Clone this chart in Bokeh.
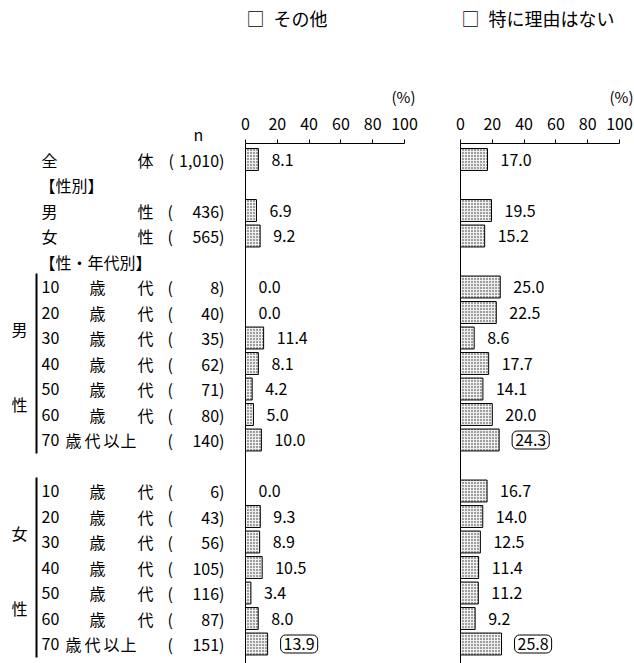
from bokeh.plotting import figure
from bokeh.layouts import column, row
from bokeh.models import ColumnDataSource, Range1d, LinearAxis, FixedTicker, Span
from bokeh.core.properties import value
from bokeh.embed import file_html
from bokeh.resources import INLINE

# ---------------- data ----------------
rows = ["全体", "【性別】", "男性", "女性", "【性・年代別】",
        "10歳代", "20歳代", "30歳代", "40歳代", "50歳代", "60歳代", "70歳代以上",
        "",
        "10歳代", "20歳代", "30歳代", "40歳代", "50歳代", "60歳代", "70歳代以上"]
n_counts = [1010, None, 436, 565, None, 8, 40, 35, 62, 71, 80, 140, None,
            6, 43, 56, 105, 116, 87, 151]
other = [8.1, None, 6.9, 9.2, None, 0.0, 0.0, 11.4, 8.1, 4.2, 5.0, 10.0, None,
         0.0, 9.3, 8.9, 10.5, 3.4, 8.0, 13.9]
no_reason = [17.0, None, 19.5, 15.2, None, 25.0, 22.5, 8.6, 17.7, 14.1, 20.0, 24.3, None,
             16.7, 14.0, 12.5, 11.4, 11.2, 9.2, 25.8]
boxed_other = [19]
boxed_no_reason = [11, 19]
titles = ["□\u2002その他", "□\u2002特に理由はない"]
ticks = [0, 20, 40, 60, 80, 100]
n_header = "n"
groups = [("男", "性", 5, 11), ("女", "性", 13, 19)]

# ---------------- layout constants ----------------
FONT = "Noto Sans CJK JP"
W, H = 634, 663
HEAD_H = 106
ROW0 = 159.0      # y of first row centre
STEP = 25.5
FRAME_TOP = 143
Y_BOT = (H - ROW0) / STEP
Y_TOP = (FRAME_TOP - ROW0) / STEP
LW = 240
P1_W = 215
P2_W = W - LW - P1_W
P1_ZERO, P2_ZERO = 5, 5       # px from figure's left edge
P1_S, P2_S = 1.59, 1.59       # px per percent

TXT = dict(text_font=value(FONT), text_color="black", text_baseline="middle")


def clean(fig):
    for g in fig.grid:
        g.visible = False
    fig.outline_line_color = None
    fig.background_fill_color = None
    fig.border_fill_color = "white"


def base(width, height, xr, yr, top):
    f = figure(width=width, height=height, x_range=xr, y_range=yr,
               output_backend="svg", toolbar_location=None,
               x_axis_location=None, y_axis_location=None,
               min_border=0, min_border_left=0, min_border_right=0,
               min_border_top=top, min_border_bottom=0)
    clean(f)
    return f


# ---------------- header ----------------
head = base(W, HEAD_H, Range1d(0, W), Range1d(HEAD_H, 0), 0)
title_x = [LW + P1_ZERO + 1, LW + P1_W + P2_ZERO + 1]
head.text(x=title_x, y=[17, 17], text=titles, text_font_size="18px", text_align="left", **TXT)
head.text(x=[LW + P1_ZERO + 100 * P1_S - 1], y=[96], text=["(%)"],
          text_font_size="15px", text_align="center", **TXT)
head.text(x=[W - 1], y=[96], text=["(%)"], text_font_size="15px", text_align="right", **TXT)

# ---------------- left labels ----------------
left = base(LW, H - HEAD_H, Range1d(0, LW), Range1d(Y_BOT, Y_TOP), FRAME_TOP - HEAD_H)
n_axis = LinearAxis(ticker=FixedTicker(ticks=[198]), major_label_overrides={198: n_header},
                    axis_line_color=None, major_tick_line_color=None,
                    major_tick_in=0, major_tick_out=0, minor_tick_in=0, minor_tick_out=0,
                    major_label_standoff=-2, major_label_text_font=FONT,
                    major_label_text_font_size="16px", major_label_text_color="black")
left.add_layout(n_axis, "above")

lx, ly, lt = [], [], []      # left aligned
cx, cy, ct = [], [], []      # centred
rx, ry, rt = [], [], []      # right aligned
for i, name in enumerate(rows):
    if not name:
        continue
    if name.startswith("【"):
        lx.append(39); ly.append(i); lt.append(name)
    elif name.endswith("以上"):
        lx.append(41); ly.append(i); lt.append(name[:2])
        for ch, xx in zip(name[2:], [73, 92, 111, 128]):
            cx.append(xx); cy.append(i); ct.append(ch)
    elif name.endswith("歳代"):
        lx.append(41); ly.append(i); lt.append(name[:2])
        cx += [97, 145]; cy += [i, i]; ct += ["歳", "代"]
    else:
        lx.append(41); ly.append(i); lt.append(name[0])
        cx.append(145); cy.append(i); ct.append(name[1])
    n = n_counts[i]
    if n is not None:
        s = f"{n:,}"
        lx.append(168 if len(s) > 3 else 167); ly.append(i); lt.append("(")
        rx.append(224); ry.append(i); rt.append(s + ")")

left.text(x=lx, y=ly, text=lt, text_font_size="16px", text_align="left", **TXT)
left.text(x=cx, y=cy, text=ct, text_font_size="16px", text_align="center", **TXT)
left.text(x=rx, y=ry, text=rt, text_font_size="16px", text_align="right", **TXT)

gx, gy, gt = [], [], []
for a, b, r0, r1 in groups:
    mid = (r0 + r1) / 2
    left.segment(x0=36, y0=r0 - 0.53, x1=36, y1=min(r1 + 0.53, 19.6), line_color="black", line_width=2)
    gx += [19, 19]; gy += [mid - 1.35, mid + 1.6]; gt += [a, b]
left.text(x=gx, y=gy, text=gt, text_font_size="16px", text_align="center", **TXT)


# ---------------- bar panels ----------------
def panel(values, boxed, width, zero_px, scale):
    x0 = -zero_px / scale
    x1 = x0 + width / scale
    p = base(width, H - HEAD_H, Range1d(x0, x1), Range1d(Y_BOT, Y_TOP), FRAME_TOP - HEAD_H)
    ax = LinearAxis(ticker=FixedTicker(ticks=ticks), bounds=(0, 100),
                    major_tick_in=0, major_tick_out=4, minor_tick_in=0, minor_tick_out=0,
                    major_label_standoff=10, major_label_text_font=FONT,
                    major_label_text_font_size="16px", major_label_text_color="black",
                    axis_line_color="black", major_tick_line_color="black")
    p.add_layout(ax, "above")
    p.add_layout(Span(location=0, dimension="height", line_color="black", line_width=1))

    idx = [i for i, v in enumerate(values) if v is not None]
    bars = ColumnDataSource(dict(y=[i for i in idx if values[i] > 0],
                                 v=[values[i] for i in idx if values[i] > 0]))
    p.hbar(y="y", left=0, right="v", height=0.86, source=bars,
           fill_color="#f0f0f0", line_color="black", line_width=1,
           hatch_pattern="dot", hatch_scale=3, hatch_weight=1, hatch_color="#222222")

    plain = [i for i in idx if i not in boxed]
    p.text(x=[values[i] for i in plain], y=plain, text=[f"{values[i]:.1f}" for i in plain],
           x_offset=13, text_font_size="16px", text_align="left", **TXT)
    p.text(x=[values[i] for i in boxed], y=boxed, text=[f"{values[i]:.1f}" for i in boxed],
           x_offset=13, text_font_size="16px", text_align="left",
           border_line_color="black", border_line_width=1, border_radius=5, padding=3,
           background_fill_color="white", **TXT)
    return p


p1 = panel(other, boxed_other, P1_W, P1_ZERO, P1_S)
p2 = panel(no_reason, boxed_no_reason, P2_W, P2_ZERO, P2_S)

layout = column(head, row(left, p1, p2, spacing=0), spacing=0)
open("out.html", "w").write(file_html(layout, INLINE))
